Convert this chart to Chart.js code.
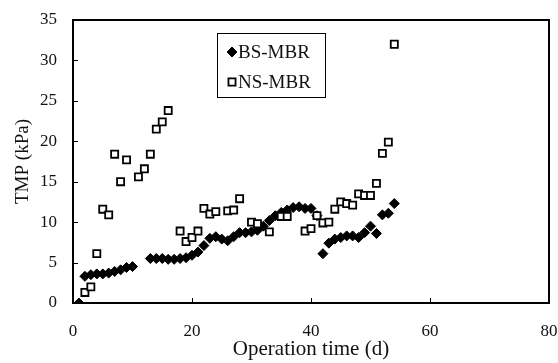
<!DOCTYPE html>
<html>
<head>
<meta charset="utf-8">
<script src="https://cdn.jsdelivr.net/npm/chart.js@4/dist/chart.umd.min.js"></script>
<style>
  html, body { margin: 0; padding: 0; background: #fff; }
  #wrap { width: 558px; height: 363px; }
</style>
</head>
<body>
<div id="wrap"><canvas id="tmpChart" width="558" height="363"></canvas></div>
<script>
// BS-MBR readings (day, kPa)
const bsDays = [1, 2, 3, 4, 5, 6, 7, 8, 9, 10,
  13, 14, 15, 16, 17, 18, 19, 20, 21, 22, 23, 24, 25, 26, 27, 28, 29, 30, 31,
  32, 33, 34, 35, 36, 37, 38, 39, 40, 41,
  42, 43, 44, 45, 46, 47, 48, 49, 50, 51, 52, 53, 54];
const bsTmp = [0, 3.3, 3.5, 3.6, 3.6, 3.7, 3.9, 4.1, 4.4, 4.5,
  5.5, 5.5, 5.5, 5.4, 5.4, 5.5, 5.6, 5.9, 6.3, 7.1, 8.0, 8.2, 7.9, 7.7, 8.2, 8.7, 8.7, 8.8, 9.0,
  9.5, 10.2, 10.8, 11.2, 11.5, 11.8, 11.9, 11.7, 11.7, 10.8,
  6.1, 7.4, 7.9, 8.1, 8.3, 8.3, 8.1, 8.7, 9.5, 8.6, 10.9, 11.1, 12.3];

// NS-MBR readings (day, kPa)
const nsDays = [2, 3, 4, 5, 6, 7, 8, 9, 11, 12, 13, 14, 15, 16,
  18, 19, 20, 21, 22, 23, 24, 26, 27, 28, 30, 31, 33, 35, 36,
  39, 40, 41, 42, 43, 44, 45, 46, 47, 48, 49, 50, 51, 52, 53, 54];
const nsTmp = [1.3, 2.0, 6.1, 11.6, 10.9, 18.4, 15.0, 17.7, 15.6, 16.6, 18.4, 21.5, 22.4, 23.8,
  8.9, 7.6, 8.1, 8.9, 11.7, 11.0, 11.3, 11.4, 11.5, 12.9, 10.0, 9.8, 8.8, 10.7, 10.7,
  8.9, 9.2, 10.8, 9.9, 10.0, 11.6, 12.5, 12.3, 12.1, 13.5, 13.3, 13.3, 14.8, 18.5, 19.9, 32.0];

// axis settings
const xTitle = "Operation time (d)";
const yTitle = "TMP (kPa)";
const xMin = 0, xMax = 80, xStep = 20;
const yMin = 0, yMax = 35, yStep = 5;

const serif = "'Liberation Serif', 'Times New Roman', serif";

function toPoints(xs, ys) {
  return xs.map((x, i) => ({ x: x, y: ys[i] }));
}

// frame, inward ticks and boxed legend
const decorPlugin = {
  id: "decor",
  afterDraw(chart) {
    const ctx = chart.ctx;
    const a = chart.chartArea;
    const L = Math.round(a.left), R = Math.round(a.right);
    const T = Math.round(a.top), B = Math.round(a.bottom);
    ctx.save();
    ctx.fillStyle = "#000";

    // frame round the plot (filled strips, 2px)
    ctx.fillRect(L - 1, T - 1, R - L + 2, 2);
    ctx.fillRect(L - 1, B - 1, R - L + 2, 2);
    ctx.fillRect(L - 1, T - 1, 2, B - T + 2);
    ctx.fillRect(R - 1, T - 1, 2, B - T + 2);

    // small ticks pointing in
    const xs = chart.scales.x;
    xs.ticks.forEach(t => {
      const px = Math.round(xs.getPixelForValue(t.value));
      ctx.fillRect(px, B - 5, 1, 5);
    });
    const ys = chart.scales.y;
    ys.ticks.forEach(t => {
      const py = Math.round(ys.getPixelForValue(t.value));
      ctx.fillRect(L, py, 5, 1);
    });

    // legend box
    const bx = L + 144, by = T + 13, bw = 108, bh = 64;
    ctx.fillStyle = "#fff";
    ctx.fillRect(bx, by, bw, bh);
    ctx.strokeStyle = "#000";
    ctx.lineWidth = 1;
    ctx.strokeRect(bx + 0.5, by + 0.5, bw, bh);

    ctx.font = "19px " + serif;
    ctx.textBaseline = "middle";
    ctx.textAlign = "left";
    chart.data.datasets.forEach((ds, i) => {
      const cy = by + 19 + i * 30;
      ctx.fillStyle = ds.backgroundColor;
      ctx.strokeStyle = ds.borderColor;
      ctx.lineWidth = ds.borderWidth;
      Chart.helpers.drawPoint(ctx, {
        pointStyle: ds.pointStyle,
        radius: ds.pointRadius,
        borderWidth: ds.borderWidth
      }, bx + 15, cy);
      ctx.fillStyle = "#111";
      ctx.fillText(ds.label, bx + 21, cy + 1);
    });
    ctx.restore();
  }
};

new Chart(document.getElementById("tmpChart"), {
  type: "scatter",
  data: {
    datasets: [
      {
        label: "BS-MBR",
        data: toPoints(bsDays, bsTmp),
        pointStyle: "rectRot",
        pointRadius: 5,
        backgroundColor: "#000",
        borderColor: "#000",
        borderWidth: 1,
        order: 1
      },
      {
        label: "NS-MBR",
        data: toPoints(nsDays, nsTmp),
        pointStyle: "rect",
        pointRadius: 5,
        backgroundColor: "#fff",
        borderColor: "#000",
        borderWidth: 1.8,
        order: 0
      }
    ]
  },
  options: {
    responsive: false,
    animation: false,
    layout: { padding: { left: 0, right: 9, top: 20, bottom: 0 } },
    plugins: {
      legend: { display: false },
      tooltip: { enabled: false }
    },
    scales: {
      x: {
        type: "linear",
        min: xMin,
        max: xMax,
        afterFit: s => {
          s.height = 60;
          s.paddingLeft = 0;
          s.paddingRight = 0;
        },
        grid: { display: false },
        border: { display: false },
        ticks: {
          stepSize: xStep,
          padding: 10,
          color: "#111",
          font: { family: serif, size: 17 }
        },
        title: {
          display: true,
          text: xTitle,
          color: "#111",
          padding: { top: 0, bottom: 1 },
          font: { family: serif, size: 21 }
        }
      },
      y: {
        min: yMin,
        max: yMax,
        afterFit: s => {
          s.width = 73;
          s.paddingTop = 0;
          s.paddingBottom = 0;
        },
        grid: { display: false },
        border: { display: false },
        ticks: {
          stepSize: yStep,
          padding: 8,
          color: "#111",
          font: { family: serif, size: 17 }
        },
        title: {
          display: true,
          text: yTitle,
          color: "#111",
          padding: { top: 12, bottom: 0 },
          font: { family: serif, size: 19 }
        }
      }
    }
  },
  plugins: [decorPlugin]
});
</script>
</body>
</html>
